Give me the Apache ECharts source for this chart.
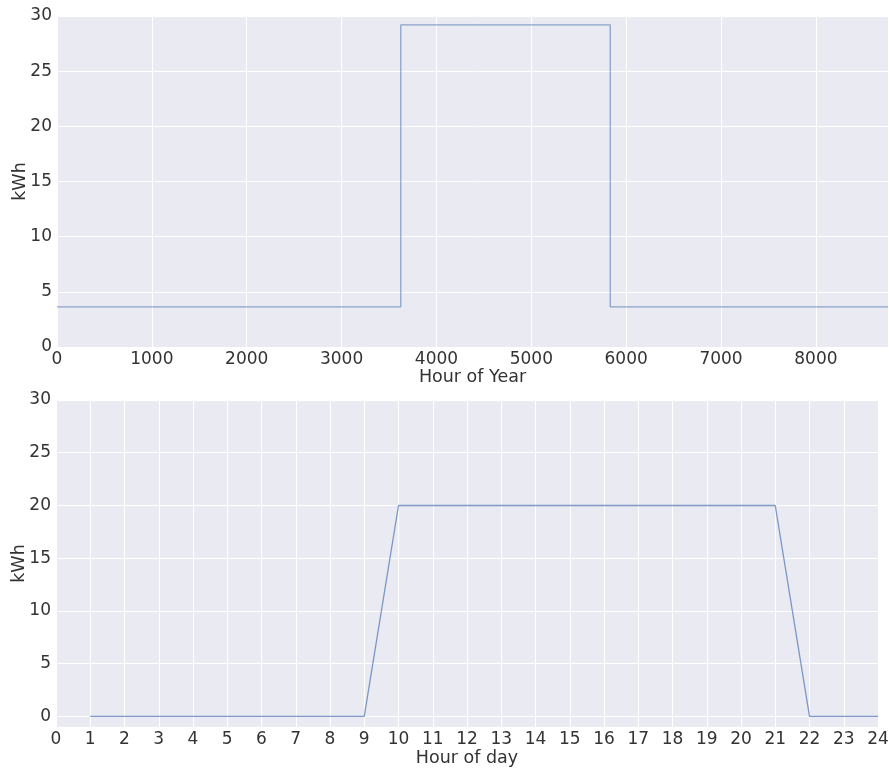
<!DOCTYPE html>
<html>
<head>
<meta charset="utf-8">
<script src="https://cdn.jsdelivr.net/npm/echarts@6/dist/echarts.min.js"></script>
<style>
  html, body { margin: 0; padding: 0; background: #fff; }
  #chart { width: 889px; height: 768px; }
</style>
</head>
<body>
<div id="chart"></div>
<script>
// top panel: change points of the yearly profile
var yearHours = [0, 3624, 5832, 8760];
var yearKwh = [3.64, 29.2, 3.64, 3.64];

// bottom panel: hourly profile of one day
var dayHours = [1, 2, 3, 4, 5, 6, 7, 8, 9, 10, 11, 12, 13, 14, 15, 16, 17, 18, 19, 20, 21, 22, 23, 24];
var dayKwh = [0, 0, 0, 0, 0, 0, 0, 0, 0, 20, 20, 20, 20, 20, 20, 20, 20, 20, 20, 20, 20, 0, 0, 0];

var dayYTicks = [0, 5, 10, 15, 20, 25, 30];

var textColor = '#333';
var font = 'DejaVu Sans';

function zip(xs, ys) {
    return xs.map(function (x, i) { return [x, ys[i]]; });
}

var myChart = echarts.init(document.getElementById('chart'));

var axisCommon = {
    axisLine: { show: false },
    axisTick: { show: false },
    splitLine: { show: true, lineStyle: { color: '#ffffff', width: 1 } },
    nameMoveOverlap: false,
    nameTextStyle: { color: textColor, fontSize: 17.5, fontFamily: font }
};

function plain(v) { return String(v); }

myChart.setOption({
    animation: false,
    grid: [
        { left: 57, right: 1, top: 16, height: 331, backgroundColor: '#EAEAF2', show: true, borderWidth: 0, outerBoundsMode: 'none' },
        { left: 56, right: 11, top: 400, height: 327, backgroundColor: '#EAEAF2', show: true, borderWidth: 0, outerBoundsMode: 'none' }
    ],
    xAxis: [
        Object.assign({}, axisCommon, {
            gridIndex: 0, type: 'value', min: 0, max: 8760, interval: 1000,
            name: 'Hour of Year', nameLocation: 'middle', nameGap: 21,
            axisLabel: { color: textColor, fontSize: 17, fontFamily: font, margin: 4, showMaxLabel: false, formatter: plain }
        }),
        Object.assign({}, axisCommon, {
            gridIndex: 1, type: 'value', min: 0, max: 24, interval: 1,
            name: 'Hour of day', nameLocation: 'middle', nameGap: 22,
            axisLabel: { color: textColor, fontSize: 17, fontFamily: font, margin: 4 }
        })
    ],
    yAxis: [
        Object.assign({}, axisCommon, {
            gridIndex: 0, type: 'value', min: 0, max: 30, interval: 5,
            name: 'kWh', nameLocation: 'middle', nameGap: 28,
            axisLabel: { color: textColor, fontSize: 17, fontFamily: font, margin: 5 }
        }),
        Object.assign({}, axisCommon, {
            gridIndex: 1, type: 'value', min: -1, max: 30,
            name: 'kWh', nameLocation: 'middle', nameGap: 28,
            axisTick: { show: false, customValues: dayYTicks },
            axisLabel: { color: textColor, fontSize: 17, fontFamily: font, margin: 5, customValues: dayYTicks }
        })
    ],
    series: [
        {
            type: 'line', xAxisIndex: 0, yAxisIndex: 0, step: 'end',
            data: zip(yearHours, yearKwh),
            showSymbol: false,
            lineStyle: { color: '#4C72B0', width: 1.3, opacity: 0.6 }
        },
        {
            type: 'line', xAxisIndex: 1, yAxisIndex: 1,
            data: zip(dayHours, dayKwh),
            showSymbol: false,
            lineStyle: { color: '#4C72B0', width: 1.3, opacity: 0.7 }
        }
    ]
});
</script>
</body>
</html>
